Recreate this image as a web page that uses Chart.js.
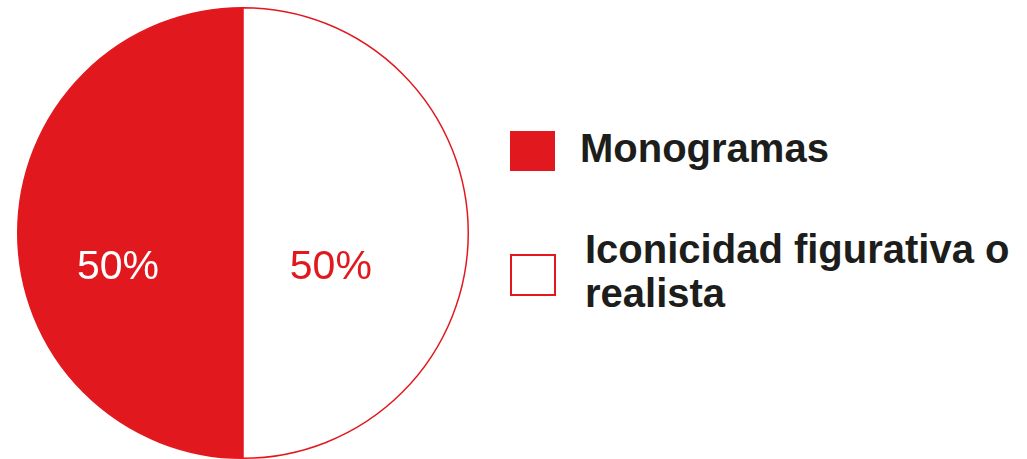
<!DOCTYPE html>
<html>
<head>
<meta charset="utf-8">
<script src="https://cdn.jsdelivr.net/npm/chart.js@4.4.1/dist/chart.umd.min.js"></script>
<style>
    html, body { margin: 0; padding: 0; background: #fff; }
    body { width: 1027px; height: 459px; position: relative; overflow: hidden; font-family: "Liberation Sans", Arial, sans-serif; }
    #pieBox { position: absolute; left: 17px; top: 7px; width: 452px; height: 452px; }
    #legend { position: absolute; left: 510px; top: 0; }
    .leg-item { position: absolute; display: flex; align-items: flex-start; }
    .leg-box { box-sizing: border-box; flex: none; }
    .leg-text { font-weight: bold; font-size: 40px; line-height: 44px; color: #1d1d1b; white-space: nowrap; }
</style>
</head>
<body>
<div id="pieBox"><canvas id="pieChart"></canvas></div>
<div id="legend"></div>
<script>
// Data
const categories = ['Monogramas', 'Iconicidad figurativa o realista'];
const legendLines = [['Monogramas'], ['Iconicidad figurativa o', 'realista']];
const values = [50, 50];
const valueLabels = ['50%', '50%'];

const RED = '#e1191f';
const fillColors = [RED, '#ffffff'];
const labelColors = ['#ffffff', RED];

// Etiquetas de porcentaje dentro del pastel
const pctLabels = {
    id: 'pctLabels',
    afterDatasetsDraw(chart) {
        const { ctx } = chart;
        const meta = chart.getDatasetMeta(0);
        const radial = [0.555, 0.39];
        meta.data.forEach((arc, i) => {
            const mid = (arc.startAngle + arc.endAngle) / 2;
            const r = arc.outerRadius;
            const x = arc.x + Math.cos(mid) * r * radial[i];
            const y = arc.y + r * 0.155;
            ctx.save();
            ctx.font = '41px "Liberation Sans", Arial, sans-serif';
            ctx.fillStyle = labelColors[i];
            ctx.textAlign = 'center';
            ctx.textBaseline = 'middle';
            ctx.fillText(valueLabels[i], x, y);
            ctx.restore();
        });
    }
};

new Chart(document.getElementById('pieChart').getContext('2d'), {
    type: 'pie',
    data: {
        labels: categories,
        datasets: [{
            data: values,
            backgroundColor: fillColors,
            borderColor: [RED, RED],
            borderWidth: 1.5
        }]
    },
    options: {
        responsive: true,
        maintainAspectRatio: false,
        animation: false,
        rotation: 180,
        plugins: { legend: { display: false }, tooltip: { enabled: false } }
    },
    plugins: [pctLabels]
});

// Leyenda
const legend = document.getElementById('legend');
const itemTops = [131, 233];
const boxOffsets = [0, 21];
const boxSizes = [[45, 40], [46, 42]];
categories.forEach((cat, i) => {
    const item = document.createElement('div');
    item.className = 'leg-item';
    item.style.top = itemTops[i] + 'px';
    const box = document.createElement('div');
    box.className = 'leg-box';
    box.style.width = boxSizes[i][0] + 'px';
    box.style.height = boxSizes[i][1] + 'px';
    box.style.marginTop = boxOffsets[i] + 'px';
    if (i === 0) {
        box.style.background = RED;
    } else {
        box.style.border = '2px solid ' + RED;
    }
    const text = document.createElement('div');
    text.className = 'leg-text';
    text.style.marginLeft = (i === 0 ? 25 : 29) + 'px';
    text.style.marginTop = (i === 0 ? -5 : -6) + 'px';
    text.innerHTML = legendLines[i].join('<br>');
    item.appendChild(box);
    item.appendChild(text);
    legend.appendChild(item);
});
</script>
</body>
</html>
